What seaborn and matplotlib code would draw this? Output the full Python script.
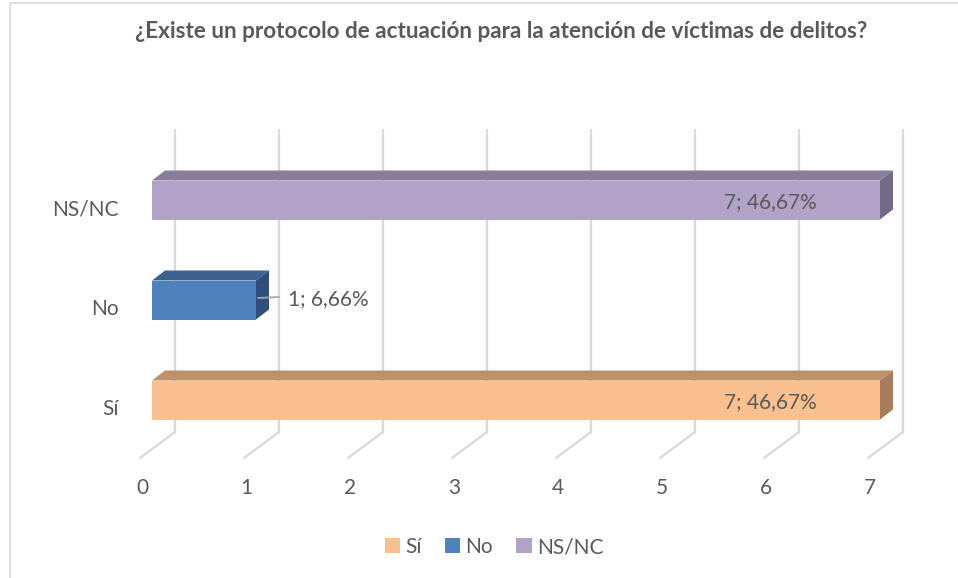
import matplotlib
matplotlib.use("Agg")
import matplotlib.pyplot as plt
import matplotlib.transforms as mtransforms
from matplotlib.patches import Polygon, Rectangle
from matplotlib.lines import Line2D
import seaborn as sns
import pandas as pd

# --- datos ---
categorias = ["Sí", "No", "NS/NC"]
valores = [7, 1, 7]
etiquetas = ["7; 46,67%", "1; 6,66%", "7; 46,67%"]
orden_eje = ["NS/NC", "No", "Sí"]
ticks_x = [0, 1, 2, 3, 4, 5, 6, 7]
titulo = "¿Existe un protocolo de actuación para la atención de víctimas de delitos?"

color_frente = {"Sí": "#FAC090", "No": "#4F81BD", "NS/NC": "#B3A2C7"}
color_arriba = {"Sí": "#BF916B", "No": "#3C6292", "NS/NC": "#887D9A"}
color_lado = {"Sí": "#A67E5D", "No": "#2F4F7A", "NS/NC": "#736A86"}
gris_txt = "#595959"
gris_linea = "#D9D9D9"

df = pd.DataFrame({"cat": categorias, "valor": valores, "etiqueta": etiquetas})

sns.set_style("white")
plt.rcParams["font.family"] = ["Lato", "DejaVu Sans"]

W, H = 958, 578
fig = plt.figure(figsize=(W / 100, H / 100), dpi=100)


def caja(x0, y0, x1, y1):
    return [x0 / W, 1 - y1 / H, (x1 - x0) / W, (y1 - y0) / H]


ax = fig.add_axes(caja(152, 145, 880, 449))
sns.barplot(data=df, x="valor", y="cat", hue="cat", order=orden_eje,
            hue_order=categorias, palette=color_frente, width=0.39, saturation=1,
            linewidth=0, orient="h", legend=True, ax=ax, zorder=3)
ax.set_xlim(0, 7)
ax.set_ylim(2.49, -0.55)
ax.set_xticks([])
ax.set_yticks([])
ax.set_xlabel("")
ax.set_ylabel("")
for s in ax.spines.values():
    s.set_visible(False)

fig.canvas.draw()
ident = mtransforms.IdentityTransform()
fs = 15

# pared del fondo y piso (efecto 3D)
prof_x, prof_y = 23, 17
frente_x, frente_y = -12, -9
for t in ticks_x:
    xb, yb = ax.transData.transform((t, 2.49))
    _, yt = ax.transAxes.transform((0, 1))
    ax.add_line(Line2D([xb + prof_x, xb + prof_x], [yb + prof_y, yt + prof_y - 2],
                       transform=ident, color=gris_linea, lw=1.6, clip_on=False, zorder=1))
    ax.add_line(Line2D([xb + prof_x, xb + frente_x], [yb + prof_y, yb + frente_y],
                       transform=ident, color=gris_linea, lw=1.6, clip_on=False, zorder=1))
    ax.text(xb + frente_x + 2, yb - 39, str(t), transform=ident, ha="center", va="center",
            fontsize=fs, color=gris_txt)

# caras superior y lateral de las barras
dx, dy = 13, 10
for barra in ax.patches:
    if barra.get_width() <= 0:
        continue
    yc = barra.get_y() + barra.get_height() / 2
    cat = orden_eje[int(round(yc))]
    (x0, y0), (x1, y1) = ax.transData.transform(
        [(barra.get_x(), barra.get_y() + barra.get_height()), (barra.get_x() + barra.get_width(), barra.get_y())])
    ylo, yhi = min(y0, y1), max(y0, y1)
    arriba = Polygon([(x0, yhi), (x1, yhi), (x1 + dx, yhi + dy), (x0 + dx, yhi + dy)],
                     closed=True, transform=ident, facecolor=color_arriba[cat],
                     edgecolor="none", clip_on=False, zorder=4)
    lado = Polygon([(x1, ylo), (x1, yhi), (x1 + dx, yhi + dy), (x1 + dx, ylo + dy)],
                   closed=True, transform=ident, facecolor=color_lado[cat],
                   edgecolor="none", clip_on=False, zorder=4)
    ax.add_patch(arriba)
    ax.add_patch(lado)

# etiquetas de categorías
for i, cat in enumerate(orden_eje):
    _, yc = ax.transData.transform((0, i))
    x0, _ = ax.transAxes.transform((0, 0))
    ax.text(x0 - 33, yc - 9, cat, transform=ident, ha="right", va="center",
            fontsize=fs, color=gris_txt)

# etiquetas de datos
for _, fila in df.iterrows():
    i = orden_eje.index(fila["cat"])
    xe, yc = ax.transData.transform((fila["valor"], i))
    if fila["valor"] >= 3:
        ax.text(xe - 63, yc - 2, fila["etiqueta"], transform=ident, ha="right",
                va="center", fontsize=fs, color=gris_txt, zorder=6)
    else:
        ax.add_line(Line2D([xe + 2, xe + 23], [yc + 2, yc + 3], transform=ident,
                           color="#A6A6A6", lw=1.3, clip_on=False, zorder=6))
        ax.text(xe + 32, yc + 1, fila["etiqueta"], transform=ident, ha="left",
                va="center", fontsize=fs, color=gris_txt, zorder=6)

# leyenda
manejadores, textos = ax.get_legend_handles_labels()
ax.legend(manejadores, textos, loc="center", bbox_to_anchor=(494 / W, 1 - 547 / H),
          bbox_transform=fig.transFigure, ncol=3, frameon=False, fontsize=fs,
          handlelength=0.75, handleheight=0.75, handletextpad=0.25, columnspacing=1.1,
          labelcolor=gris_txt)

fig.text(501 / W, 1 - 31 / H, titulo, ha="center", va="center", fontsize=16.2,
         fontweight="bold", color=gris_txt)

fig.add_artist(Rectangle((10 / W, -0.05), 1.2, 1 - 3 / H + 0.05, transform=fig.transFigure,
                         fill=False, edgecolor=gris_linea, lw=1.2))

fig.savefig("out.png", dpi=100)
